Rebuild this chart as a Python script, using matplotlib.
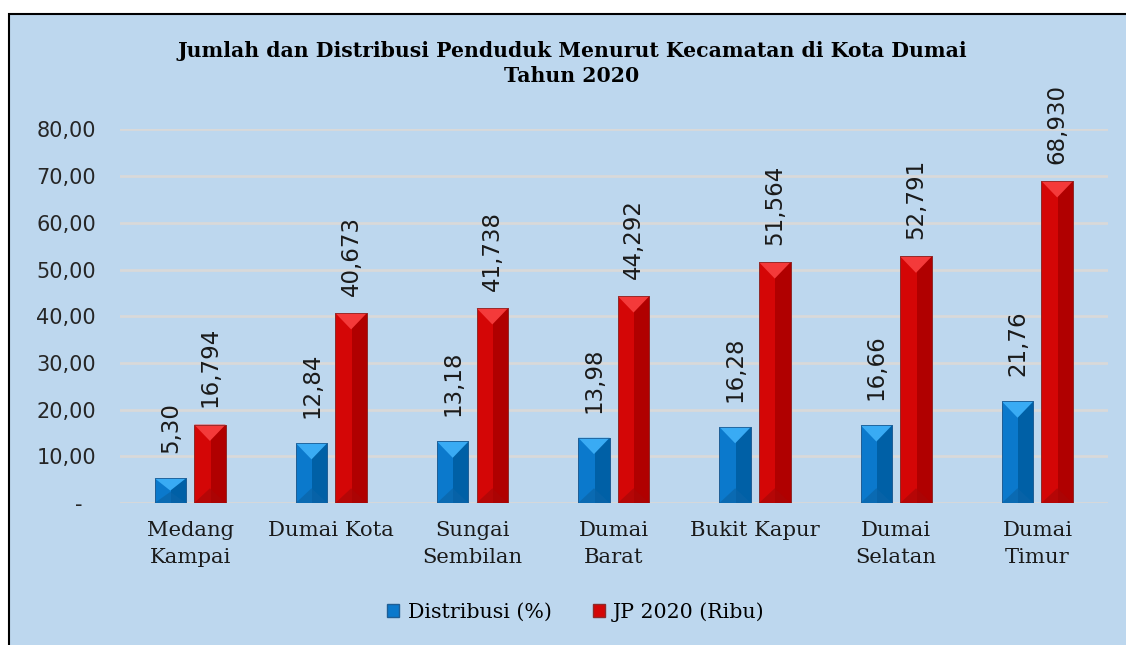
import matplotlib
matplotlib.use("Agg")
import matplotlib.pyplot as plt
from matplotlib.patches import Rectangle, Polygon
from matplotlib.ticker import FuncFormatter
import numpy as np

categories = ["Medang\nKampai", "Dumai Kota", "Sungai\nSembilan", "Dumai\nBarat",
              "Bukit Kapur", "Dumai\nSelatan", "Dumai\nTimur"]
distribusi = [5.30, 12.84, 13.18, 13.98, 16.28, 16.66, 21.76]
jp2020 = [16.794, 40.673, 41.738, 44.292, 51.564, 52.791, 68.930]
dist_labels = ["5,30", "12,84", "13,18", "13,98", "16,28", "16,66", "21,76"]
jp_labels = ["16,794", "40,673", "41,738", "44,292", "51,564", "52,791", "68,930"]
series_names = ["Distribusi (%)", "JP 2020 (Ribu)"]
title = "Jumlah dan Distribusi Penduduk Menurut Kecamatan di Kota Dumai\nTahun 2020"

W, H = 1126, 645
fig = plt.figure(figsize=(W / 100, H / 100), dpi=100)
fig.patch.set_facecolor("white")

# outer frame panel
fig.patches.append(Rectangle((8.5 / W, -0.05), 1.2, (H - 13.5) / H + 0.05,
                             transform=fig.transFigure, facecolor="#BDD7EE",
                             edgecolor="black", linewidth=1.5, zorder=-10))

ax_l, ax_r, ax_b, ax_t = 119.5, 1108, 503, 129.4
ax = fig.add_axes([ax_l / W, 1 - ax_b / H, (ax_r - ax_l) / W, (ax_b - ax_t) / H])
ax.set_zorder(5)
ax.set_facecolor("none")
ax.set_xlim(-0.5, len(categories) - 0.5)
ax.set_ylim(0, 80)

px_per_x = (ax_r - ax_l) / len(categories)
px_per_y = (ax_b - ax_t) / 80.0

bw = 31.5 / px_per_x
off = 19.8 / px_per_x
x = np.arange(len(categories))

blue = dict(mid="#0B79CC", dark="#0060A6", top="#39ABF4", bot="#0A64A8", edge="#1F5E95")
red = dict(mid="#D40606", dark="#B00000", top="#F43A3A", bot="#A90606", edge="#8E2A2A")


def bevel_bar(xc, h, w, c):
    x0, x1 = xc - w / 2, xc + w / 2
    ax.bar(xc, h, width=w, color=c["mid"], edgecolor=c["edge"], linewidth=0.6, zorder=3)
    # right darker half
    ax.add_patch(Rectangle((xc + w * 0.02, 0), w * 0.48, h, facecolor=c["dark"],
                           edgecolor="none", zorder=3.1))
    depth_px = 0.52 * w * px_per_x
    d = depth_px / px_per_y
    d = min(d, h / 2)
    ax.add_patch(Polygon([[x0, h], [x1, h], [xc, h - d]], closed=True,
                         facecolor=c["top"], edgecolor="none", zorder=3.2))
    ax.add_patch(Polygon([[x0, 0], [x1, 0], [xc, d * 0.9]], closed=True,
                         facecolor=c["bot"], edgecolor="none", alpha=0.7, zorder=3.2))
    ax.add_patch(Rectangle((x0, 0), w, h, facecolor="none", edgecolor=c["edge"],
                           linewidth=0.6, zorder=3.3))


for i in range(len(categories)):
    bevel_bar(x[i] - off, distribusi[i], bw, blue)
    bevel_bar(x[i] + off, jp2020[i], bw, red)
    ax.annotate(dist_labels[i], (x[i] - off, distribusi[i]), xytext=(0, 18),
                textcoords="offset points", rotation=90, ha="center", va="bottom",
                fontsize=16.5, family="DejaVu Sans", color="#1a1a1a", annotation_clip=False)
    ax.annotate(jp_labels[i], (x[i] + off, jp2020[i]), xytext=(0, 12.5),
                textcoords="offset points", rotation=90, ha="center", va="bottom",
                fontsize=16.5, family="DejaVu Sans", color="#1a1a1a", annotation_clip=False)

ax.set_yticks(np.arange(0, 81, 10))
ax.yaxis.set_major_formatter(FuncFormatter(
    lambda v, p: "-  " if v == 0 else f"{v:.2f}".replace(".", ",")))
ax.grid(axis="y", color="#D9D9D9", linewidth=2, zorder=1)
ax.set_axisbelow(True)
for s in ax.spines.values():
    s.set_visible(False)
ax.tick_params(axis="y", length=0, pad=17, labelsize=15, labelcolor="#262626")
for t in ax.get_yticklabels():
    t.set_family("DejaVu Sans")
ax.set_xticks(x)
ax.set_xticklabels(categories, family="DejaVu Serif", fontsize=15.2, color="#1a1a1a",
                   linespacing=1.5)
ax.tick_params(axis="x", length=0, pad=13)
for t in ax.get_xticklabels():
    t.set_horizontalalignment("center")

fig.text(572 / W, 1 - 63.5 / H, title, ha="center", va="center", family="DejaVu Serif",
         fontweight="bold", fontsize=14.7, linespacing=1.35, color="black")

handles = [Rectangle((0, 0), 1, 1, facecolor=blue["mid"], edgecolor=blue["edge"]),
           Rectangle((0, 0), 1, 1, facecolor=red["mid"], edgecolor=red["edge"])]
fig.legend(handles, series_names, loc="center", bbox_to_anchor=(576 / W, 1 - 612 / H),
           ncol=2, frameon=False, prop=dict(family="DejaVu Serif", size=14.8),
           handlelength=0.6, handleheight=0.6, handletextpad=0.4, columnspacing=2.0)

fig.savefig("out.png", dpi=100)
